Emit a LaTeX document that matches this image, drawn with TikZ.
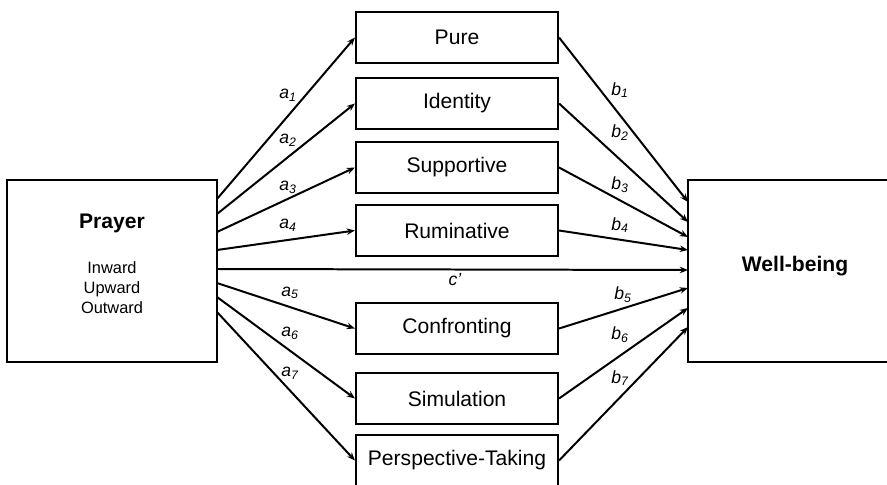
\documentclass[tikz,border=0pt]{standalone}
\usepackage{fontspec}
\setmainfont{Liberation Sans}
\usetikzlibrary{arrows.meta}

\tikzset{
  medbox/.style={draw, line width=1.8pt, minimum width=6.06cm, minimum height=1.53cm,
    font=\fontsize{18}{20}\selectfont},
  bigbox/.style={draw, line width=1.8pt, minimum height=5.46cm},
  conn/.style={->, line width=1.7pt},
  coef/.style={font=\fontsize{15}{17}\selectfont\itshape}
}

\begin{document}
\begin{tikzpicture}[x=0.03cm, y=-0.03cm, >={Stealth[length=7pt,width=5.5pt]}]

	\clip (0,0) rectangle (887,485);

	% predictor and outcome
	\node[bigbox, minimum width=6.3cm] (prayer) at (112,271) {};
	\node[font=\fontsize{18}{20}\selectfont\bfseries] (prayertitle) at (112,223) {Prayer};
	\node[align=center, font=\fontsize{14}{17}\selectfont] (prayertypes) at (112,288) {Inward\\Upward\\Outward};

	\node[bigbox, minimum width=6.42cm] (wellbeing) at (795,271) {};
	\node[font=\fontsize{18}{20}\selectfont\bfseries] (wellbeingtitle) at (795,266) {Well-being};

	% mediators
	\node[medbox] (pure)  at (457,37.5)  {Pure};
	\node[medbox] (ident) at (457,103.5) {Identity};
	\node[medbox] (supp)  at (457,167.5) {Supportive};
	\node[medbox] (rumin) at (457,230.5) {Ruminative};
	\node[medbox] (confr) at (457,328.5) {Confronting};
	\node[medbox] (simul) at (457,398.5) {Simulation};
	\node[medbox] (persp) at (457,460.5) {Perspective-Taking};

	% end points on the two big boxes
	\foreach \y [count=\i] in {199,214,232,250,269,283,297,312}
		\coordinate (pa\i) at (217,\y);
	\foreach \y [count=\i] in {202,222,237,250,270,288,308,327}
		\coordinate (wb\i) at (688,\y);

	\foreach \med/\i in {pure/1,ident/2,supp/3,rumin/4,confr/6,simul/7,persp/8} {
		\draw[conn] (pa\i) -- (\med.west);
		\draw[conn] (\med.east) -- (wb\i);
	}
	\draw[conn] (pa5) -- (wb5);

	% path labels
	\node[coef] (la1) at (288,95)  {a\textsubscript{1}};
	\node[coef] (la2) at (288,140) {a\textsubscript{2}};
	\node[coef] (la3) at (288,187) {a\textsubscript{3}};
	\node[coef] (la4) at (288,225) {a\textsubscript{4}};
	\node[coef] (la5) at (290,293) {a\textsubscript{5}};
	\node[coef] (la6) at (290,333) {a\textsubscript{6}};
	\node[coef] (la7) at (290,373) {a\textsubscript{7}};

	\node[coef] (lc) at (455,280) {c'};

	\node[coef] (lb1) at (620,90)  {b\textsubscript{1}};
	\node[coef] (lb2) at (620,133) {b\textsubscript{2}};
	\node[coef] (lb3) at (620,185) {b\textsubscript{3}};
	\node[coef] (lb4) at (620,225) {b\textsubscript{4}};
	\node[coef] (lb5) at (623,295) {b\textsubscript{5}};
	\node[coef] (lb6) at (620,335) {b\textsubscript{6}};
	\node[coef] (lb7) at (620,378) {b\textsubscript{7}};

\end{tikzpicture}
\end{document}
